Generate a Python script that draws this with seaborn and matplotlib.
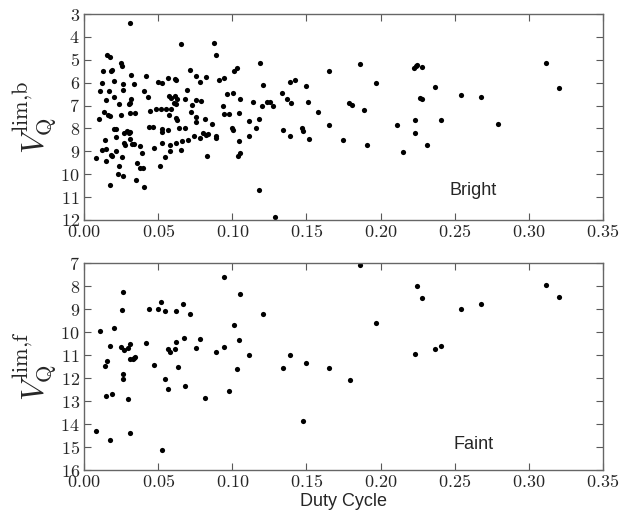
import numpy as np
import pandas as pd
import seaborn as sns
import matplotlib.pyplot as plt
from matplotlib.ticker import FuncFormatter, MultipleLocator

# bright sample: duty cycle vs limiting magnitude
bright_duty = [
    0.0312, 0.0655, 0.0880, 0.0887, 0.0158, 0.0176, 0.0250, 0.0253, 0.0131, 0.0183,
    0.0190, 0.0713, 0.0318, 0.0415, 0.0758, 0.0824, 0.0567, 0.0623, 0.0614, 0.0501,
    0.0526, 0.0122, 0.0205, 0.0260, 0.0339, 0.0779, 0.0912, 0.0946, 0.1014, 0.1030,
    0.1190, 0.0108, 0.0169, 0.0264, 0.0406, 0.0431, 0.0695, 0.0964, 0.1002, 0.1054,
    0.0205, 0.0149, 0.0316, 0.0573, 0.0589, 0.0616, 0.0625, 0.0680, 0.0758, 0.0786,
    0.1140, 0.0235, 0.0302, 0.0312, 0.0607, 0.0618, 0.0138, 0.0248, 0.0165, 0.0178,
    0.0312, 0.0341, 0.0447, 0.0488, 0.0521, 0.0553, 0.0589, 0.0729, 0.0720, 0.0571,
    0.0935, 0.0946, 0.0975, 0.1045, 0.0099, 0.0623, 0.0625, 0.0756, 0.0815, 0.0758,
    0.1113, 0.1180, 0.0438, 0.0463, 0.0205, 0.0217, 0.0526, 0.0526, 0.0564, 0.0639,
    0.0682, 0.0998, 0.1002, 0.0865, 0.1160, 0.0293, 0.0302, 0.0312, 0.0271, 0.0804,
    0.0820, 0.0833, 0.0889, 0.0891, 0.0779, 0.0740, 0.0214, 0.0312, 0.0144, 0.1113,
    0.1043, 0.0325, 0.0336, 0.0271, 0.0275, 0.0526, 0.0580, 0.0623, 0.0659, 0.0700,
    0.0375, 0.0122, 0.0151, 0.0217, 0.0470, 0.0652, 0.0580, 0.0393, 0.1054, 0.0084,
    0.0149, 0.0183, 0.0192, 0.0253, 0.0546, 0.0831, 0.1036, 0.0359, 0.0375, 0.0397,
    0.0233, 0.0510, 0.0228, 0.0266, 0.0350, 0.0176, 0.0402, 0.1180,
    0.1207, 0.1203, 0.1237, 0.1253, 0.1273, 0.1286, 0.1336, 0.1345, 0.1370, 0.1386,
    0.1390, 0.1393, 0.1420, 0.1467, 0.1474, 0.1496, 0.1510, 0.1519, 0.1578, 0.1650,
    0.1654, 0.1745, 0.1790, 0.1810, 0.1862, 0.1889, 0.1911, 0.1970, 0.2112, 0.2151,
    0.2228, 0.2239, 0.2248, 0.2282, 0.2230, 0.2230, 0.2268, 0.2282, 0.2315,
    0.2370, 0.2410, 0.2543, 0.2676, 0.2789, 0.3116, 0.3202,
]
bright_vlim = [
    3.41, 4.29, 4.28, 4.78, 4.81, 4.86, 5.14, 5.29, 5.51, 5.51,
    5.46, 5.45, 5.65, 5.71, 5.70, 5.74, 5.78, 5.90, 5.84, 5.96,
    6.03, 6.03, 5.94, 6.07, 6.04, 5.96, 5.88, 5.81, 5.51, 5.36,
    5.12, 6.35, 6.35, 6.30, 6.38, 6.61, 6.30, 6.51, 6.46, 6.70,
    6.64, 6.77, 6.72, 6.59, 6.67, 6.59, 6.70, 6.70, 6.77, 6.81,
    6.84, 6.93, 6.93, 6.88, 6.91, 6.93, 7.28, 7.41, 7.42, 7.45,
    7.32, 7.32, 7.25, 7.13, 7.13, 7.13, 7.13, 6.99, 7.30, 7.43,
    7.00, 7.38, 7.36, 7.32, 7.57, 7.54, 7.61, 7.49, 7.57, 7.74,
    7.67, 7.57, 7.93, 7.93, 8.03, 8.03, 8.01, 8.14, 8.09, 7.99,
    7.99, 7.99, 8.07, 7.80, 8.00, 8.13, 8.22, 8.17, 8.22, 8.20,
    8.28, 8.25, 8.35, 8.42, 8.43, 8.33, 8.36, 8.45, 8.52, 8.32,
    8.54, 8.70, 8.70, 8.62, 8.74, 8.62, 8.72, 8.64, 8.55, 8.49,
    8.77, 8.96, 8.91, 8.99, 8.87, 8.94, 8.99, 9.06, 9.06, 9.30,
    9.41, 9.17, 9.20, 9.26, 9.26, 9.22, 9.20, 9.51, 9.71, 9.74,
    9.65, 9.64, 10.00, 10.07, 10.26, 10.46, 10.54, 10.68,
    6.09, 7.03, 6.86, 6.86, 7.00, 11.88, 6.46, 8.06, 6.71, 8.33,
    5.99, 6.88, 5.90, 7.96, 8.12, 6.13, 6.83, 8.48, 7.28, 5.49,
    7.84, 8.52, 6.91, 6.99, 5.19, 7.20, 8.71, 6.03, 7.84, 9.04,
    5.38, 5.26, 5.23, 5.33, 7.64, 8.22, 6.65, 6.70, 8.72,
    6.19, 7.62, 6.55, 6.61, 7.80, 5.13, 6.23,
]

# faint sample
faint_duty = [
    0.0946, 0.0264, 0.1054, 0.0519, 0.0666, 0.0253, 0.0438, 0.0499, 0.0549, 0.0623,
    0.0713, 0.1014, 0.0108, 0.0205, 0.0677, 0.0783, 0.1045, 0.0178, 0.0312, 0.0415,
    0.0623, 0.0251, 0.0271, 0.0298, 0.0564, 0.0580, 0.0612, 0.0758, 0.0889, 0.0946,
    0.1113, 0.0312, 0.0330, 0.0343, 0.0339, 0.0153, 0.0142, 0.0470, 0.0637, 0.1029,
    0.0266, 0.0260, 0.0544, 0.0564, 0.0682, 0.0975, 0.0187, 0.0151, 0.0296, 0.0813,
    0.0084, 0.0312, 0.0178, 0.0524,
    0.1862, 0.1207, 0.1345, 0.1386, 0.1496, 0.1474, 0.1652, 0.1792, 0.1970, 0.2245,
    0.2282, 0.2230, 0.2370, 0.2410, 0.2543, 0.2676, 0.3116, 0.3202,
]
faint_vlim = [
    7.62, 8.26, 8.35, 8.71, 8.77, 9.06, 9.01, 8.99, 9.07, 9.09,
    9.20, 9.70, 9.97, 9.81, 10.25, 10.30, 10.35, 10.59, 10.51, 10.48,
    10.43, 10.67, 10.80, 10.71, 10.75, 10.86, 10.72, 10.70, 10.86, 10.64,
    11.00, 11.16, 11.16, 11.07, 11.14, 11.26, 11.48, 11.45, 11.52, 11.61,
    11.84, 12.03, 12.06, 12.46, 12.36, 12.58, 12.71, 12.80, 12.93, 12.88,
    14.30, 14.39, 14.68, 15.14,
    7.07, 9.23, 11.55, 11.01, 11.36, 13.87, 11.57, 12.09, 9.59, 7.99,
    8.51, 10.97, 10.74, 10.62, 9.00, 8.78, 7.94, 8.49,
]

sns.set_style("ticks")
plt.rcParams['font.family'] = ['Liberation Sans', 'DejaVu Sans']
plt.rcParams['mathtext.fontset'] = 'cm'
plt.rcParams['xtick.direction'] = 'in'
plt.rcParams['ytick.direction'] = 'in'

fig = plt.figure(figsize=(6.33, 5.13), dpi=100)
ax1 = fig.add_axes([0.1327, 0.5712, 0.8199, 0.4015])
ax2 = fig.add_axes([0.1327, 0.0838, 0.8199, 0.4035])

bright = pd.DataFrame({'duty': bright_duty, 'vlim': bright_vlim})
faint = pd.DataFrame({'duty': faint_duty, 'vlim': faint_vlim})

sns.scatterplot(data=bright, x='duty', y='vlim', ax=ax1, color='black', s=14, linewidth=0)
sns.scatterplot(data=faint, x='duty', y='vlim', ax=ax2, color='black', s=14, linewidth=0)

cm_fmt2 = FuncFormatter(lambda v, p: '$%.2f$' % v)
cm_int = FuncFormatter(lambda v, p: '$%d$' % round(v))

for ax, ylims, lab, name in [(ax1, (12, 3), r'$V_{\rm Q}^{\rm lim{,}b}$', 'Bright'),
                             (ax2, (16, 7), r'$V_{\rm Q}^{\rm lim{,}f}$', 'Faint')]:
    ax.set_xlim(0, 0.35)
    ax.set_ylim(*ylims)
    ax.xaxis.set_major_locator(MultipleLocator(0.05))
    ax.yaxis.set_major_locator(MultipleLocator(1))
    ax.xaxis.set_major_formatter(cm_fmt2)
    ax.yaxis.set_major_formatter(cm_int)
    ax.tick_params(top=True, right=True, labelsize=13, length=5, width=0.8,
                   color='0.35', pad=3)
    for sp in ax.spines.values():
        sp.set_color('0.4')
        sp.set_linewidth(1.0)
    ax.set_ylabel(lab, fontsize=23, labelpad=1)
    ax.set_xlabel('')
    ax.text(0.75, 0.10 if name == 'Bright' else 0.08, name, transform=ax.transAxes,
            ha='center', va='bottom', fontsize=13)

ax2.set_xlabel('Duty Cycle', fontsize=13, labelpad=1)

fig.savefig('out.png', dpi=100)
